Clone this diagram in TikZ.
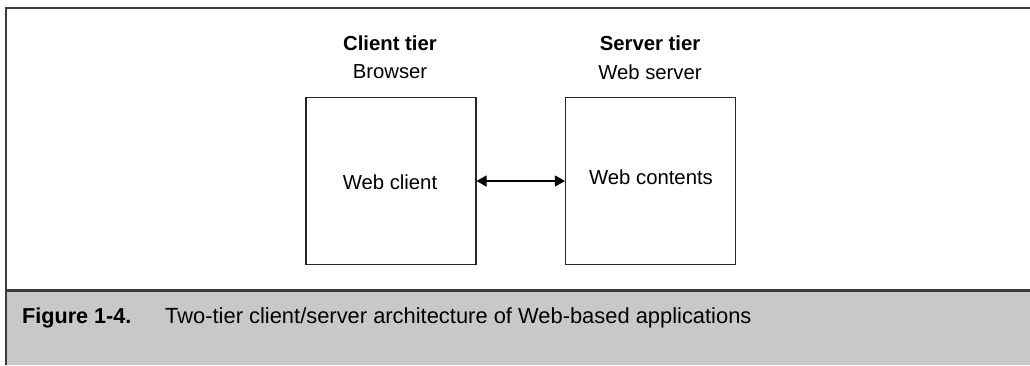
\documentclass[tikz,border=0pt]{standalone}
\usepackage{fontspec}
\setmainfont{Liberation Sans}
\usetikzlibrary{arrows.meta}
\definecolor{bandgray}{HTML}{C8C8CA}
\definecolor{framegray}{HTML}{3C3C3C}
\begin{document}
\begin{tikzpicture}[x=1pt,y=-1pt,
  tierbox/.style={draw=black!85,line width=1.1pt,minimum width=170pt,minimum height=167pt,inner sep=0pt},
  lbl/.style={font=\fontsize{20.3}{24}\selectfont,inner sep=0pt},
  blbl/.style={font=\fontsize{20.3}{24}\selectfont\bfseries,inner sep=0pt},
  framel/.style={draw=framegray,line width=2pt},
  dbl/.style={{Triangle[length=10pt,width=11pt]}-{Triangle[length=10pt,width=11pt]},line width=1.3pt}]
\useasboundingbox (0,0) rectangle (1030,365);
\fill[white] (0,0) rectangle (1030,365);
% caption band
\fill[bandgray] (6,290) rectangle (1030,365);
\draw[framel] (5,8) -- (1030,8);
\draw[framel] (6,7) -- (6,365);
\draw[draw=framegray,line width=3pt] (6,290) -- (1030,290);
% boxes
\node[tierbox] (client) at (391,181) {};
\node[tierbox] (server) at (650.5,181) {};
\node[lbl] (wc) at (390,182) {Web client};
\node[lbl] (wcon) at (651,177) {Web contents};
\node[blbl] (ct) at (390,43) {Client tier};
\node[lbl] (br) at (390,72) {Browser};
\node[blbl] (st) at (650,43) {Server tier};
\node[lbl] (ws) at (650,72) {Web server};
\draw[dbl] (client.east) -- (server.west);
% caption
\node[inner sep=0pt,anchor=west,font=\fontsize{21.6}{26}\selectfont\bfseries] (fig) at (22,318) {Figure 1-4.};
\node[inner sep=0pt,anchor=west,font=\fontsize{21.9}{26}\selectfont] (cap) at (165,318) {Two-tier client/server architecture of Web-based applications};
\end{tikzpicture}
\end{document}
